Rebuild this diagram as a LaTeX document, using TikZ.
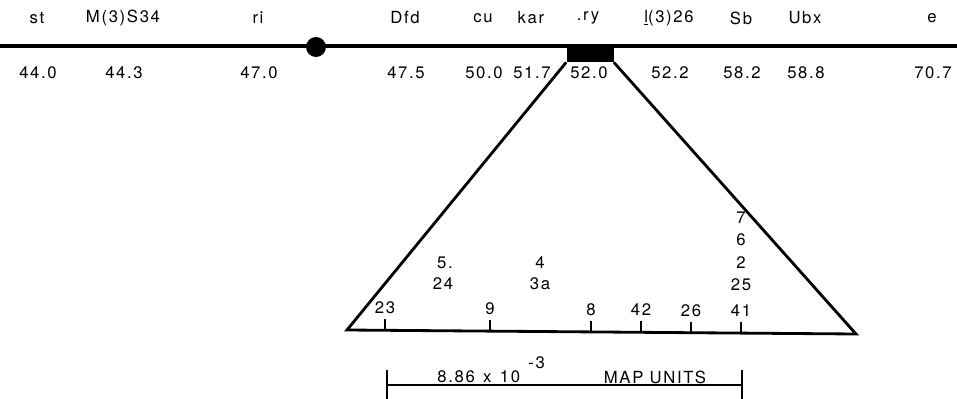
\documentclass[tikz,border=0pt]{standalone}
\usepackage{fontspec}
\setmainfont{TeX Gyre Heros}[LetterSpace=10]
\usetikzlibrary{calc,positioning}

\begin{document}
\begin{tikzpicture}[x=0.02cm,y=-0.02cm,
    lbl/.style={font=\fontsize{9.5}{11}\selectfont,inner sep=0pt},
    chrom/.style={line width=2.2pt},
    wedge/.style={line width=1.6pt,line join=miter}]
  \useasboundingbox (0,0) rectangle (957,399);

  % chromosome 3 with centromere and the ry block
  \coordinate (chrL) at (0,46);
  \coordinate (chrR) at (957,46);
  \draw[chrom] (chrL) -- (chrR);
  \node (cen) [circle,fill,inner sep=0pt,minimum size=0.4cm] at (316,47) {};
  \node (ryblock) [fill,inner sep=0pt,minimum width=0.94cm,minimum height=0.36cm] at (590,53) {};

  % loci above, map positions below
  \foreach \x/\gene/\pos/\id in {37/st/44.0/st,123/M(3)S34/44.3/M,258/ri/47.0/ri,
      405/Dfd/47.5/Dfd,483/cu/50.0/cu,531/kar/51.7/kar,588/.ry/52.0/ry,
      669/\underline{l}(3)26/52.2/l,741/Sb/58.2/Sb,805/Ubx/58.8/Ubx,932/e/70.7/e}{
    \node (g\id) [lbl] at (\x,18) {\gene};
    \node (p\id) [lbl] at (\x+1,73) {\pos};
  }

  % expanded ry region
  \coordinate (wedgeL) at (347,330);
  \coordinate (wedgeR) at (856,334);
  \draw[wedge] (ryblock.south west) -- (wedgeL) -- (wedgeR) -- (ryblock.south east);

  \foreach \x/\site in {385/23,490/9,591/8,641/42,691/26,741/41}{
    \pgfmathsetmacro{\yb}{330+(\x-347)*4/509}
    \coordinate (t\site) at (\x,\yb);
    \coordinate (tt\site) at (\x,\yb-11);
    \draw[line width=1.6pt] (t\site) -- (tt\site);
    \node (s\site) [lbl,above=0.1cm of tt\site] {\site};
  }

  \node (s5) [lbl] at (445,263) {5.};
  \node (s24) [lbl] at (443,284) {24};
  \node (s4) [lbl] at (540,263) {4};
  \node (s3a) [lbl] at (540,284) {3a};
  \foreach \y/\site in {218/7,240/6,263/2,285/25}{
    \node (s\site) [lbl] at (741,\y) {\site};
  }

  % scale bar
  \coordinate (barL) at (387,385);
  \coordinate (barR) at (742,385);
  \draw[line width=1.4pt] (barL) -- (barR);
  \draw[line width=1.6pt] ($(barL)+(0,-15)$) -- ($(barL)+(0,14)$);
  \draw[line width=1.6pt] ($(barR)+(0,-15)$) -- ($(barR)+(0,14)$);
  \node (barnum) [lbl,anchor=base west] at (437,382)
    {8.86\enspace x\enspace 10\hspace{0.5em}\raisebox{1.6ex}{-3}};
  \node (barunit) [lbl] at (655,377) {MAP UNITS};
\end{tikzpicture}
\end{document}
